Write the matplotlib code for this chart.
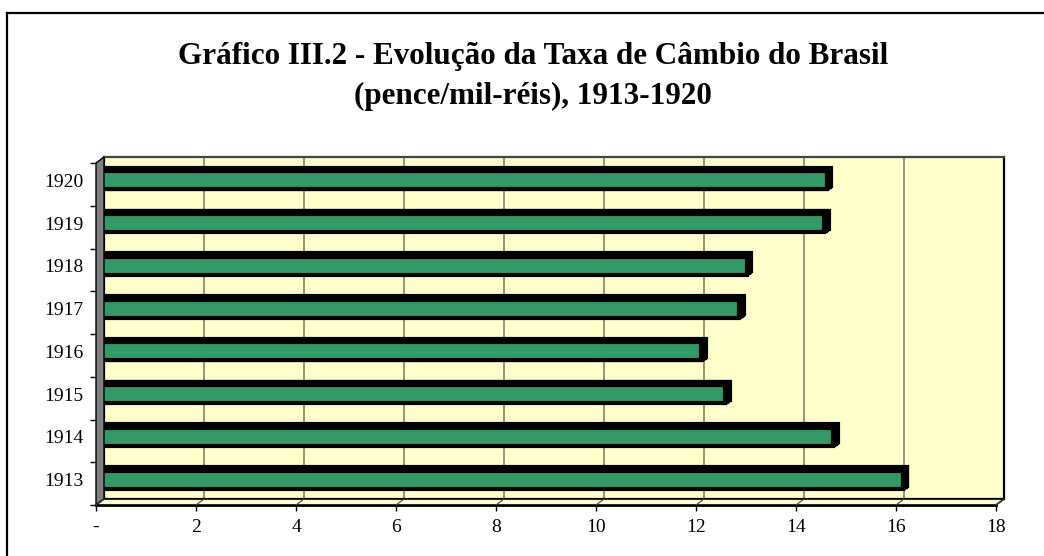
import numpy as np
import matplotlib
matplotlib.use("Agg")
import matplotlib.pyplot as plt
from matplotlib.patches import Polygon
from matplotlib.lines import Line2D
from matplotlib import transforms

anos = ["1913", "1914", "1915", "1916", "1917", "1918", "1919", "1920"]
taxa = [16.08, 14.68, 12.52, 12.04, 12.8, 12.95, 14.5, 14.55]
xticks = [0, 2, 4, 6, 8, 10, 12, 14, 16, 18]
xlabels = ["-", "2", "4", "6", "8", "10", "12", "14", "16", "18"]

W, H = 1044, 556
plt.rcParams['font.family'] = ['Liberation Serif', 'DejaVu Serif']

fig = plt.figure(figsize=(W / 100, H / 100), dpi=100)
fig.patch.set_facecolor("white")


def rect(x0, y0, x1, y1):
    # pixel box (image coords, y down) -> figure fraction
    return [x0 / W, 1 - y1 / H, (x1 - x0) / W, (y1 - y0) / H]


# outer frame (only top and left visible)
fig.add_artist(Line2D([7 / W, 7 / W], [0, 1 - 13 / H], transform=fig.transFigure, color="black", lw=1.6))
fig.add_artist(Line2D([7 / W, 1], [1 - 13 / H, 1 - 13 / H], transform=fig.transFigure, color="black", lw=1.6))

fig.text(533 / W, 1 - 64 / H, "Gráfico III.2 - Evolução da Taxa de Câmbio do Brasil",
         ha="center", va="baseline", fontsize=22.4, fontweight="bold")
fig.text(533 / W, 1 - 104 / H, "(pence/mil-réis), 1913-1920",
         ha="center", va="baseline", fontsize=22.4, fontweight="bold")

n = len(anos)
dx, dy = 8, 6  # depth of the 3d box in pixels

# back wall
ax = fig.add_axes(rect(96 + dx, 163 - dy, 996 + dx, 505 - dy))
ax.set_facecolor("#FFFFCC")
ax.set_xlim(0, 18)
ax.set_ylim(-0.5, n - 0.5)
ax.set_xticks(xticks)
ax.set_yticks([])
ax.tick_params(length=0, labelbottom=False)
ax.grid(axis="x", color="#7a7a5c", lw=1.1)
for s in ax.spines.values():
    s.set_color("black")
    s.set_linewidth(1.6)
ax.spines["top"].set_color("#444444")

# front axis (ticks + labels)
ax2 = fig.add_axes(rect(96, 163, 996, 505))
ax2.patch.set_alpha(0)
ax2.set_xlim(0, 18)
ax2.set_ylim(-0.5, n - 0.5)
ax2.set_xticks(xticks)
ax2.set_xticklabels(xlabels)
ax2.set_yticks(np.arange(n + 1) - 0.5)
ax2.set_yticklabels([])
ax2.tick_params(axis="x", length=4, width=1, labelsize=14, pad=6)
ax2.tick_params(axis="y", length=4, width=1)
for k in ["top", "right", "left"]:
    ax2.spines[k].set_visible(False)
ax2.spines["bottom"].set_linewidth(2)

# left wall and floor
x0f, y0f = ax2.transData.transform((0, -0.5))
x1f, y1f = ax2.transData.transform((0, n - 0.5))
x18f, _ = ax2.transData.transform((18, -0.5))
wall = Polygon([(x0f, y0f), (x1f, y1f), (x1f + dx, y1f + dy), (x0f + dx, y0f + dy)],
               closed=True, facecolor="#808080", edgecolor="black", lw=1, transform=None)
floor = Polygon([(x0f, y0f), (x18f, y0f), (x18f + dx, y0f + dy), (x0f + dx, y0f + dy)],
                closed=True, facecolor="#FFFFCC", edgecolor="black", lw=1.2, transform=None)
fig.add_artist(wall)
fig.add_artist(floor)
for t in xticks:
    xf, yf = ax2.transData.transform((t, -0.5))
    fig.add_artist(Line2D([xf, xf + dx], [yf, yf + dy], transform=None, color="#444444", lw=0.8))

# bars, sitting a bit inside the box
axb = fig.add_axes(rect(99, 159, 999, 501))
axb.patch.set_alpha(0)
axb.set_xlim(0, 18)
axb.set_ylim(-0.5, n - 0.5)
axb.set_xticks([])
axb.set_yticks(range(n))
axb.set_yticklabels(anos)
axb.tick_params(axis="y", length=0, labelsize=14, pad=11)
for s in axb.spines.values():
    s.set_visible(False)

y = np.arange(n)
for i in range(1, 6):
    tr = transforms.offset_copy(axb.transData, fig=fig, x=0.9 * i, y=0.7 * i, units="dots")
    axb.barh(y, taxa, height=0.42, color="black", edgecolor="black", lw=3,
             transform=tr, clip_on=False, zorder=2)
axb.barh(y, taxa, height=0.42, color="#339966", edgecolor="black", lw=3,
         clip_on=False, zorder=3)

fig.savefig("out.png", dpi=100)
